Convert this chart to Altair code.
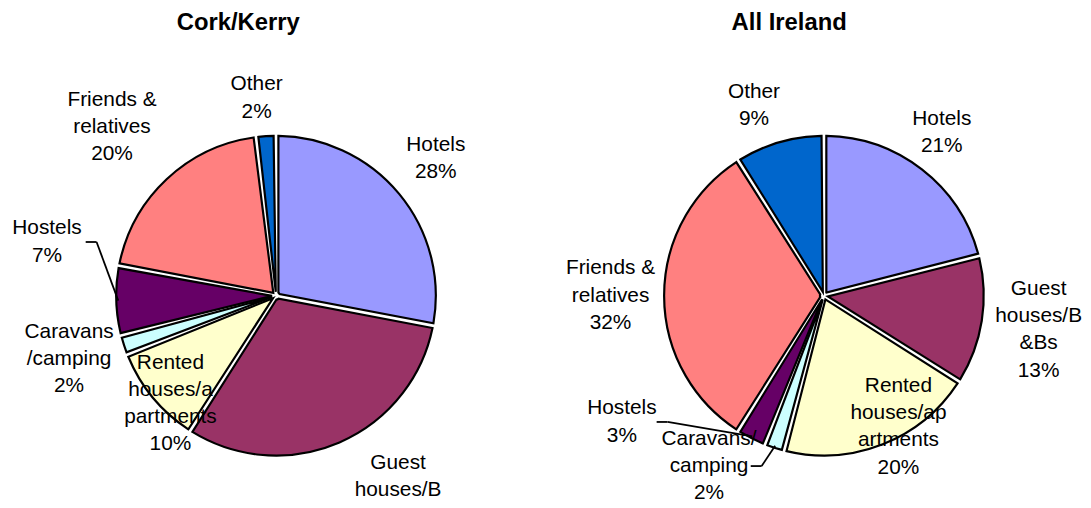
import altair as alt
import pandas as pd

# ---- data ----
categories = ["Hotels", "Guest houses/B&Bs", "Rented houses/apartments",
              "Caravans/camping", "Hostels", "Friends & relatives", "Other"]
colors = ["#9999FF", "#993366", "#FFFFCC", "#CCFFFF", "#660066", "#FF8080", "#0066CC"]

cork_values = [28, 31, 10, 2, 7, 20, 2]
ireland_values = [21, 13, 20, 2, 3, 32, 9]

cork_names = ["Hotels", "Guest\nhouses/B\n&Bs", "Rented\nhouses/a\npartments",
              "Caravans\n/camping", "Hostels", "Friends &\nrelatives", "Other"]
ireland_names = ["Hotels", "Guest\nhouses/B\n&Bs", "Rented\nhouses/ap\nartments",
                 "Caravans/\ncamping", "Hostels", "Friends &\nrelatives", "Other"]

titles = ["Cork/Kerry", "All Ireland"]

# ---- label layout (radius in px, shift in degrees from slice mid-angle) ----
cork_label_r = [212, 243, 152, 218, 237, 237, 200]
cork_label_shift = [-1, -7, -6, 1, 15, -1, -2]
cork_leader_dx = [None, None, None, None, 39, None, None]

ire_label_r = [203, 219, 152, 207, 240, 215, 204]
ire_label_shift = [-2, 0, -8, 16, 31, 0, -4]
ire_leader_dx = [None, None, None, 42, 35, None, None]

W, H = 1083, 500
R = 161
LH = 27.5
FONT = "Liberation Sans, Arial, sans-serif"


def pie(values, names, lab_r, lab_shift, lead_dx, cx, cy):
    df = pd.DataFrame({
        "idx": list(range(len(categories))),
        "cat": categories,
        "value": values,
        "label": [f"{n}\n{v}%" for n, v in zip(names, values)],
        "lr": lab_r,
        "ls": lab_shift,
        "hx": lead_dx,
    })
    base = alt.Chart(df)
    color = alt.Color("cat:N", scale=alt.Scale(domain=categories, range=colors), legend=None)

    arcs = base.mark_arc(outerRadius=R, innerRadius=4, padAngle=0.03,
                         stroke="black", strokeWidth=2.2).encode(
        theta=alt.Theta("value:Q", stack=True, scale=alt.Scale(domain=[0, 100])),
        order=alt.Order("idx:Q"),
        color=color,
        x=alt.value(cx), y=alt.value(cy),
    )

    placed = base.transform_window(
        cum="sum(value)", sort=[alt.SortField("idx")], frame=[None, 0]
    ).transform_calculate(
        mid="datum.cum - datum.value / 2",
        nlines="length(split(datum.label, '\\n'))",
    ).transform_calculate(
        t="datum.mid + datum.ls / 3.6",
    )

    label_layers = []
    for n in (2, 3, 4):
        label_layers.append(
            placed.transform_filter(f"datum.nlines == {n}").mark_text(
                font=FONT, fontSize=21, lineBreak="\n", lineHeight=LH,
                align="center", baseline="middle", color="black",
                dy=-(n - 1) * LH / 2,
            ).encode(
                theta=alt.Theta("t:Q", stack=False, scale=alt.Scale(domain=[0, 100])),
                radius=alt.Radius("lr:Q", scale=None),
                text="label:N",
                x=alt.value(cx), y=alt.value(cy),
            )
        )

    lead = placed.transform_filter("isValid(datum.hx)").transform_calculate(
        a="datum.mid / 100 * 2 * PI",
        la="datum.t / 100 * 2 * PI",
    ).transform_calculate(
        xl=f"{cx} + datum.lr * sin(datum.la)",
        yl=f"{cy} - datum.lr * cos(datum.la)",
        ex=f"{cx} + {R - 2} * sin(datum.a)",
        ey=f"{cy} - {R - 2} * cos(datum.a)",
    ).transform_calculate(
        x1="datum.xl + datum.hx",
        xs="datum.xl + datum.hx + 11",
    )
    stub = lead.mark_rule(color="black", strokeWidth=1.8).encode(
        x=alt.X("x1:Q", scale=None), x2="xs:Q",
        y=alt.Y("yl:Q", scale=None), y2="yl:Q",
    )
    diag = lead.mark_rule(color="black", strokeWidth=1.8).encode(
        x=alt.X("xs:Q", scale=None), x2="ex:Q",
        y=alt.Y("yl:Q", scale=None), y2="ey:Q",
    )
    return [arcs, stub, diag] + label_layers


def title(text, x):
    return alt.Chart(pd.DataFrame({"t": [text]})).mark_text(
        font=FONT, fontSize=24, fontWeight="bold", align="center",
        baseline="alphabetic", color="black",
    ).encode(text="t:N", x=alt.value(x), y=alt.value(20))


layers = (pie(cork_values, cork_names, cork_label_r, cork_label_shift, cork_leader_dx, 270, 288)
          + pie(ireland_values, ireland_names, ire_label_r, ire_label_shift, ire_leader_dx, 822, 288)
          + [title(titles[0], 232), title(titles[1], 787)])

chart = alt.layer(*layers).properties(
    width=W, height=H, padding=0,
    autosize=alt.AutoSizeParams(type="none"),
).configure_view(stroke=None)

chart.save("out.html", embed_options={"renderer": "svg", "actions": False})
